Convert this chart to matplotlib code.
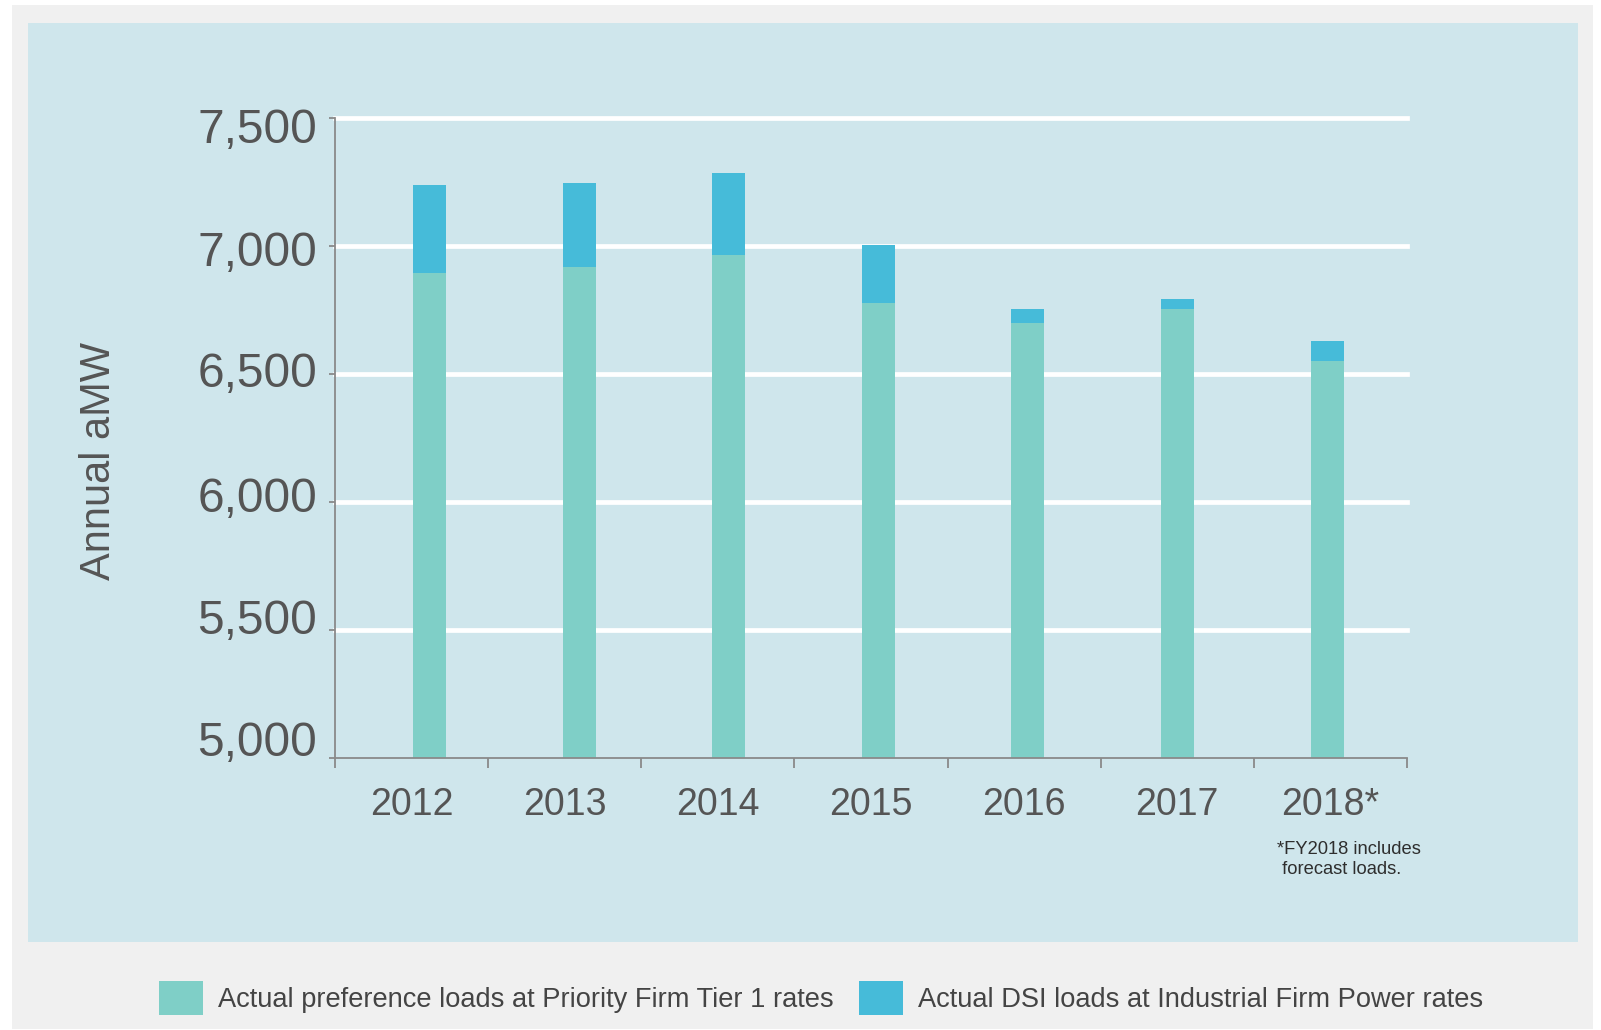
import matplotlib
matplotlib.use("Agg")
import matplotlib.pyplot as plt
from matplotlib.patches import Rectangle, Patch
from matplotlib.ticker import FuncFormatter, FixedLocator
from matplotlib.transforms import ScaledTranslation

# ---- data ----
years = ["2012", "2013", "2014", "2015", "2016", "2017", "2018*"]
preference_loads = [6893, 6918, 6964, 6776, 6698, 6753, 6550]
dsi_loads = [345, 328, 321, 227, 55, 39, 78]
y_ticks = [5000, 5500, 6000, 6500, 7000, 7500]
grid_values = [5500, 6000, 6500, 7000, 7500]
legend_labels = ["Actual preference loads at Priority Firm Tier 1 rates",
                 "Actual DSI loads at Industrial Firm Power rates"]
footnote = "*FY2018 includes\n forecast loads."

# ---- style ----
W, H = 1601, 1030
C_PREF = "#7fcfc7"
C_DSI = "#46bbd9"
C_PANEL = "#cfe6ec"
C_OUTER = "#f0f0f0"
C_AXIS = "#8a8a8a"
C_TEXT = "#555555"
FONT = ["Liberation Sans", "DejaVu Sans"]
# vertical nudges (pixels, positive = down) of the y tick labels, bottom to top
ylabel_nudge = [-19, -14, -7.5, -4.5, 2, 7.5]

fig = plt.figure(figsize=(W / 100, H / 100), dpi=100)
fig.patch.set_facecolor("white")

def px_rect(x0, y0, x1, y1, color):
    fig.patches.append(Rectangle((x0 / W, 1 - y1 / H), (x1 - x0) / W, (y1 - y0) / H,
                                 transform=fig.transFigure, facecolor=color,
                                 edgecolor="none", zorder=-10))

px_rect(12, 5, 1593, 1029, C_OUTER)
px_rect(28, 23, 1578, 942, C_PANEL)

ax_l, ax_r, ax_t, ax_b = 335, 1407, 118, 758
ax = fig.add_axes([ax_l / W, 1 - ax_b / H, (ax_r - ax_l) / W, (ax_b - ax_t) / H])
ax.set_facecolor("none")

n = len(years)
xs = list(range(n))
bw = 0.22
ax.bar(xs, preference_loads, width=bw, color=C_PREF, zorder=3)
ax.bar(xs, dsi_loads, bottom=preference_loads, width=bw, color=C_DSI, zorder=3)

xmin, xmax = -0.632, 6.534
ax.set_xlim(xmin, xmax)
ax.set_ylim(5000, 7500)

for g in grid_values:
    ax.axhline(g, color="white", lw=3.4, zorder=1, clip_on=False)

for s in ["top", "right"]:
    ax.spines[s].set_visible(False)
for s in ["left", "bottom"]:
    ax.spines[s].set_color(C_AXIS)
    ax.spines[s].set_linewidth(1.3)
    ax.spines[s].set_zorder(4)

step = (xmax - xmin) / n
bounds = [xmin + k * step for k in range(n + 1)]
centers = [xmin + (k + 0.5) * step for k in range(n)]
ax.xaxis.set_major_locator(FixedLocator(bounds))
ax.xaxis.set_minor_locator(FixedLocator(centers))
ax.set_xticklabels([], minor=False)
ax.set_xticklabels(years, minor=True)
ax.tick_params(axis="x", which="major", direction="out", length=7, width=1.3, color=C_AXIS)
ax.tick_params(axis="x", which="minor", length=0, pad=21, labelsize=27, labelcolor=C_TEXT)
for lab in ax.get_xticklabels(minor=True):
    lab.set_family(FONT)

ax.set_yticks(y_ticks)
ax.yaxis.set_major_formatter(FuncFormatter(lambda v, p: f"{int(v):,}"))
ax.tick_params(axis="y", direction="out", length=4, width=1.3, color=C_AXIS,
               pad=9, labelsize=34.5, labelcolor=C_TEXT)
for lab, d in zip(ax.get_yticklabels(), ylabel_nudge):
    lab.set_family(FONT)
    lab.set_transform(lab.get_transform() + ScaledTranslation(0, -d / 100, fig.dpi_scale_trans))

fig.text(99 / W, 1 - 461 / H, "Annual aMW", rotation=90, ha="center", va="center",
         fontsize=30, color=C_TEXT, family=FONT)

fig.text(1277 / W, 1 - 841 / H, footnote, ha="left", va="top", fontsize=13.2,
         color="#2e2e2e", family=FONT, linespacing=1.2)

handles = [Patch(facecolor=C_PREF, edgecolor="none"), Patch(facecolor=C_DSI, edgecolor="none")]
leg = fig.legend(handles, legend_labels, loc="center", bbox_to_anchor=(821 / W, 1 - 998 / H),
                 ncol=2, frameon=False, prop={"family": FONT, "size": 19.6},
                 handlelength=1.6, handleheight=1.6, handletextpad=0.55,
                 columnspacing=0.95, borderpad=0)
for t in leg.get_texts():
    t.set_color("#444444")

fig.savefig("out.png", dpi=100)
